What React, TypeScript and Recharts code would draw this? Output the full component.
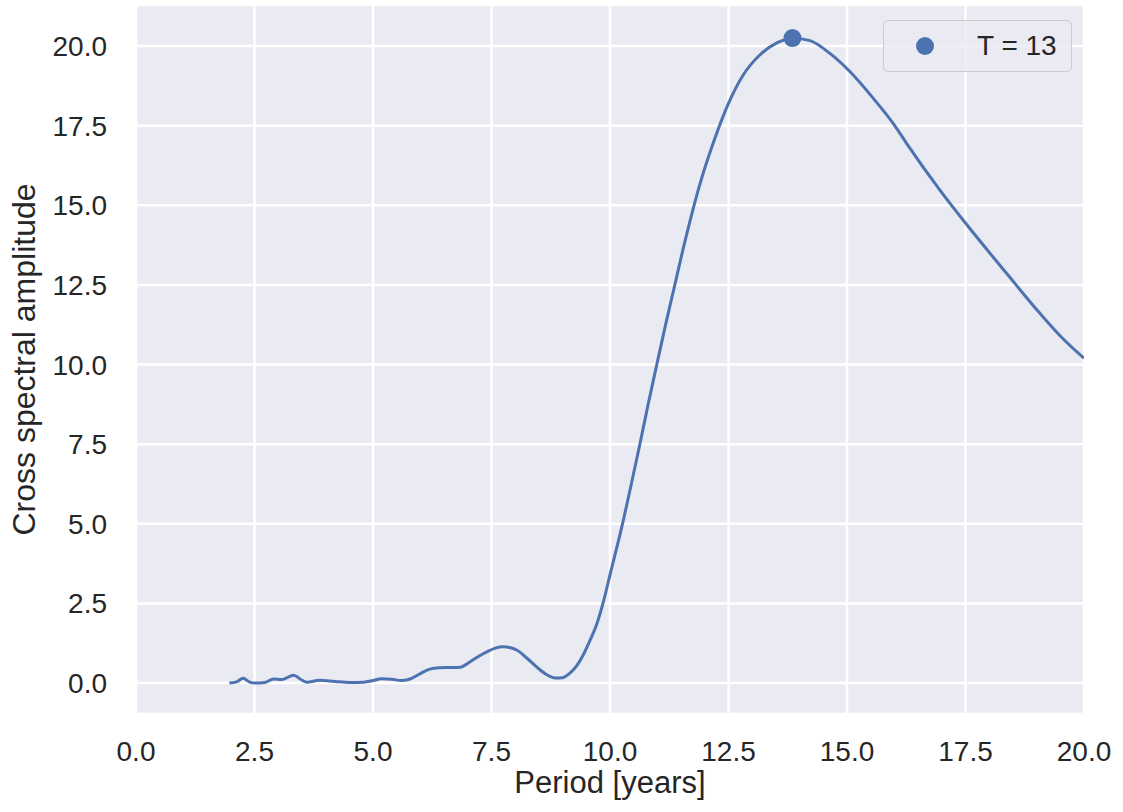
import {
  ComposedChart,
  Line,
  XAxis,
  YAxis,
  CartesianGrid,
  ReferenceDot,
} from 'recharts';

// period in years
const periods = [
  1.97, 2.12, 2.26, 2.4, 2.5, 2.72, 2.9, 3.07, 3.2, 3.33, 3.47, 3.6, 3.88, 4.2, 4.51, 4.8, 5.0,
  5.18, 5.4, 5.6, 5.78, 6.0, 6.2, 6.4, 6.62, 6.84, 7.05, 7.25, 7.4, 7.58, 7.75, 7.9, 8.03, 8.25,
  8.45, 8.65, 8.85, 9.0, 9.16, 9.3, 9.44, 9.58, 9.72, 9.86, 10.0, 10.28, 10.45, 10.63, 10.8, 10.99,
  11.18, 11.37, 11.55, 11.69, 11.9, 12.2, 12.5, 12.81, 13.16, 13.52, 13.87, 14.22, 14.64, 15.06,
  15.56, 16.0, 16.26, 16.96, 17.55, 18.37, 19.07, 19.5, 20.0,
];

// cross spectral amplitude
const amplitudes = [
  0.0, 0.04, 0.15, 0.03, 0.0, 0.02, 0.13, 0.11, 0.18, 0.25, 0.12, 0.03, 0.09, 0.05, 0.02, 0.03, 0.08,
  0.14, 0.12, 0.08, 0.13, 0.3, 0.44, 0.48, 0.49, 0.5, 0.67, 0.86, 0.98, 1.1, 1.14, 1.11, 1.04, 0.78,
  0.51, 0.28, 0.16, 0.17, 0.32, 0.55, 0.9, 1.35, 1.85, 2.55, 3.4, 5.1, 6.25, 7.5, 8.72, 10.02,
  11.3, 12.52, 13.68, 14.52, 15.68, 17.05, 18.2, 19.09, 19.72, 20.1, 20.25, 20.17, 19.77, 19.2,
  18.35, 17.52, 16.94, 15.48, 14.35, 12.86, 11.61, 10.9, 10.2,
];

const peakPeriod = 13.85;
const peakAmplitude = 20.25;
const legendLabel = 'T = 13';

const xTicks = [0, 2.5, 5, 7.5, 10, 12.5, 15, 17.5, 20];
const yTicks = [0, 2.5, 5, 7.5, 10, 12.5, 15, 17.5, 20];

const data = periods.map((p, i) => ({ period: p, amp: amplitudes[i] }));

const FONT = '"Liberation Sans", Arial, sans-serif';
const BLUE = '#4C72B0';
const TEXT = '#262626';

function LegendBox() {
  return (
    <div
      style={{
        position: 'absolute',
        left: 883,
        top: 20,
        boxSizing: 'border-box',
        width: 189,
        height: 52,
        border: '1.5px solid #cccccc',
        borderRadius: 5,
        background: 'rgba(234,234,242,0.8)',
        display: 'flex',
        alignItems: 'center',
        fontFamily: FONT,
        fontSize: 28,
        color: TEXT,
      }}
    >
      <span
        style={{
          display: 'inline-block',
          width: 18,
          height: 18,
          borderRadius: 9,
          background: BLUE,
          marginLeft: 32,
        }}
      />
      <span style={{ marginLeft: 43 }}>{legendLabel}</span>
    </div>
  );
}

export default function App() {
  return (
    <div style={{ position: 'absolute', left: 0, top: 0, width: 1123, height: 812, background: '#fff' }}>
      <ComposedChart
        width={1123}
        height={812}
        data={data}
        margin={{ top: 5, right: 39, bottom: 0, left: 0 }}
        style={{ fontFamily: FONT }}
      >
        <CartesianGrid fill="#EAEAF2" stroke="#ffffff" strokeWidth={2.5} />
        <XAxis
          dataKey="period"
          type="number"
          domain={[0, 20]}
          ticks={xTicks}
          allowDataOverflow
          tickFormatter={(v: number) => v.toFixed(1)}
          axisLine={false}
          tickLine={false}
          tickSize={0}
          tickMargin={27}
          height={98}
          tick={{ fill: TEXT, fontSize: 28 }}
          label={{
            value: 'Period [years]',
            position: 'insideBottom',
            offset: 19,
            fill: TEXT,
            fontSize: 31,
          }}
        />
        <YAxis
          type="number"
          domain={[-0.97, 21.29]}
          ticks={yTicks}
          allowDataOverflow
          tickFormatter={(v: number) => v.toFixed(1)}
          axisLine={false}
          tickLine={false}
          tickSize={0}
          tickMargin={29}
          width={136}
          tick={{ fill: TEXT, fontSize: 28 }}
          label={{
            value: 'Cross spectral amplitude',
            angle: -90,
            position: 'insideLeft',
            offset: 24,
            fill: TEXT,
            fontSize: 32,
            style: { textAnchor: 'middle' },
          }}
        />
        <Line
          type="monotone"
          dataKey="amp"
          stroke={BLUE}
          strokeWidth={3}
          dot={false}
          activeDot={false}
          isAnimationActive={false}
        />
        <ReferenceDot x={peakPeriod} y={peakAmplitude} r={9} fill={BLUE} stroke="none" />
      </ComposedChart>
      <LegendBox />
    </div>
  );
}
